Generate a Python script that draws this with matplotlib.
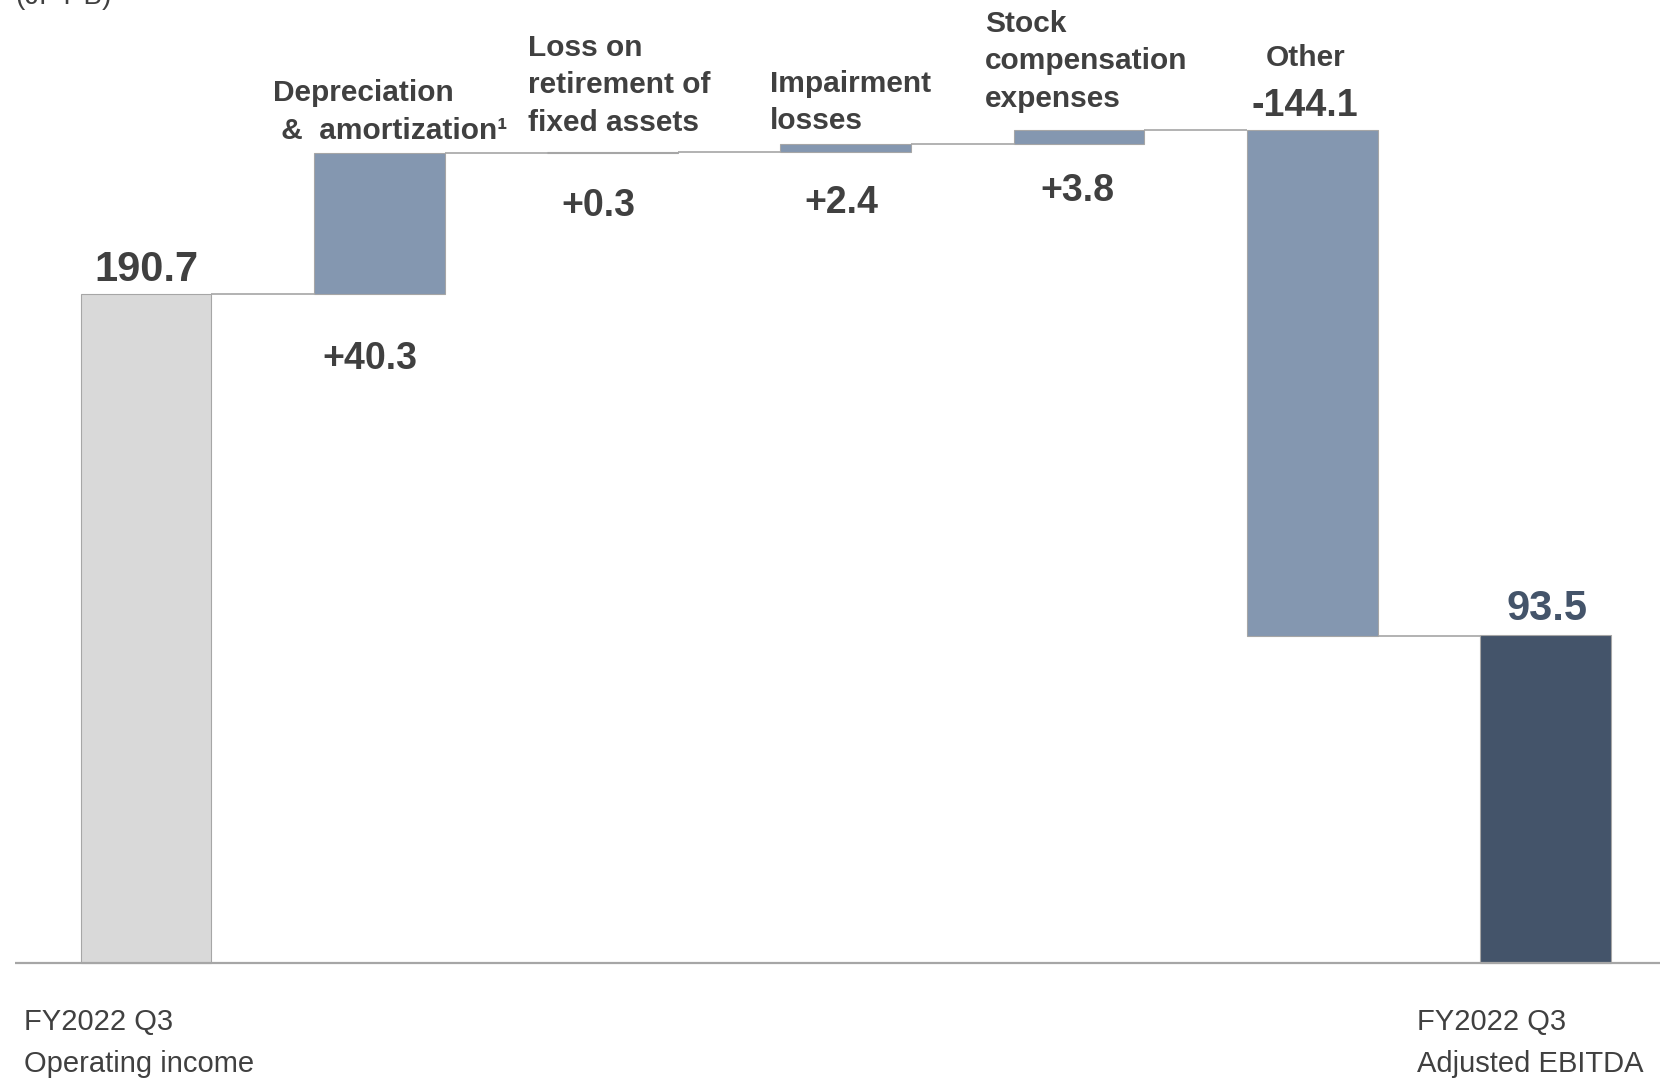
import matplotlib
matplotlib.use("Agg")
import matplotlib.pyplot as plt
import numpy as np

plt.rcParams["font.family"] = ["Liberation Sans", "DejaVu Sans"]

# ---- data -------------------------------------------------------------
steps = ["FY2022 Q3\nOperating income",
         "Depreciation\n &  amortization\u00b9",
         "Loss on\nretirement of\nfixed assets",
         "Impairment\nlosses",
         "Stock\ncompensation\nexpenses",
         "Other",
         "FY2022 Q3\nAdjusted EBITDA"]
values = [190.7, 40.3, 0.3, 2.4, 3.8, -144.1, 93.5]
is_total = [True, False, False, False, False, False, True]
value_labels = ["190.7", "+40.3", "+0.3", "+2.4", "+3.8", "-144.1", "93.5"]
unit_label = "(JPY B)"

# ---- style ------------------------------------------------------------
TEXT = "#404040"
GRID = "#A6A6A6"
C_START = "#D9D9D9"
C_DELTA = "#8497B0"
C_END = "#44546A"
BAR_W = 0.56

W, H, DPI = 1660, 1078, 100
XMIN, XMAX = -0.626, 6.491
fig = plt.figure(figsize=(W / DPI, H / DPI), dpi=DPI)
ax = fig.add_axes([0, 0, 1, 1])
ax.set_xlim(XMIN, XMAX)
ax.set_ylim(-32.8, 274.7)
ax.axis("off")

# running levels for the waterfall
bottoms, tops = [], []
level = 0.0
for v, tot in zip(values, is_total):
    if tot:
        bottoms.append(0.0)
        tops.append(v)
        level = v
    else:
        bottoms.append(level)
        level += v
        tops.append(level)

x = np.arange(len(values))
colors = [C_START] + [C_DELTA] * (len(values) - 2) + [C_END]
heights = [t - b for t, b in zip(tops, bottoms)]
ax.bar(x, heights, bottom=bottoms, width=BAR_W, color=colors,
       edgecolor=GRID, linewidth=0.8, zorder=2)

# connectors between neighbouring bars
for i in range(len(values) - 1):
    lvl = tops[i]
    ax.plot([x[i] + BAR_W / 2, x[i + 1] - BAR_W / 2], [lvl, lvl],
            color=GRID, lw=1.2, zorder=1, solid_capstyle="butt")

# baseline
ax.plot([-0.562, XMAX], [0, 0], color=GRID, lw=1.6, zorder=3,
        solid_capstyle="butt")

# ---- value labels (offsets in pixels relative to bar edge) ------------
px = 72 / DPI
label_layout = [  # (anchor, dx, dy, size, colour)
    ("top", 0, 13, 30, TEXT),
    ("bottom", -9, -75, 27, TEXT),
    ("bottom", -14, -63, 27, TEXT),
    ("bottom", -4, -61, 27, TEXT),
    ("bottom", -2, -57, 27, TEXT),
    ("top", -7, 14.5, 27, TEXT),
    ("top", 2, 15, 30, C_END),
]
for i, (lab, (anchor, dx, dy, size, col)) in enumerate(zip(value_labels, label_layout)):
    hi, lo = max(tops[i], bottoms[i]), min(tops[i], bottoms[i])
    y = hi if anchor == "top" else lo
    ax.annotate(lab, (x[i], y), xytext=(dx * px, dy * px),
                textcoords="offset points", ha="center", va="baseline",
                fontsize=size, fontweight="bold", color=col)

# ---- step captions above the adjustment bars --------------------------
cap_layout = {  # index: (x, y of last baseline, ha)
    1: (0.544, 235.1, "left"),
    2: (1.638, 237.4, "left"),
    3: (2.675, 237.9, "left"),
    4: (3.597, 244.2, "left"),
    5: (4.973, 255.9, "center"),
}
for i, (cx, cy, ha) in cap_layout.items():
    ax.text(cx, cy, steps[i], ha=ha, va="baseline", fontsize=21.5,
            fontweight="bold", color=TEXT, linespacing=1.43)

# ---- captions below the axis for the totals ---------------------------
ax.text(-0.523, -30.96, steps[0], ha="left", va="baseline", fontsize=21,
        color=TEXT, linespacing=1.6)
ax.text(5.449, -30.96, steps[-1], ha="left", va="baseline", fontsize=21,
        color=TEXT, linespacing=1.6)

# unit label, partly above the top edge
fig.text(16 / W, 1 - 4 / H, unit_label, ha="left", va="baseline",
         fontsize=20, color=TEXT)

fig.savefig("out.png", dpi=DPI)
